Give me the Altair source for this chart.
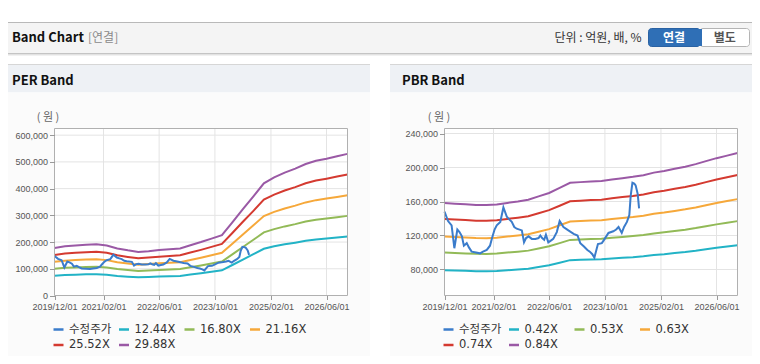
import altair as alt
import pandas as pd

# ---------------- data ----------------
band_dates = ["2019-12-01", "2020-03-01", "2020-06-01", "2020-09-01", "2020-12-01",
              "2021-03-01", "2021-06-01", "2021-09-01", "2021-12-01", "2022-03-01",
              "2022-06-01", "2022-09-01", "2022-12-01", "2023-03-01", "2023-06-01",
              "2023-09-01", "2023-12-01", "2024-03-01", "2024-06-01", "2024-09-01",
              "2024-12-01", "2025-03-01", "2025-06-01", "2025-09-01", "2025-12-01",
              "2026-03-01", "2026-06-01", "2026-09-01", "2026-12-01"]

per_names = ["수정주가", "12.44X", "16.80X", "21.16X", "25.52X", "29.88X"]
per_1244 = [74.1, 76.6, 77.9, 79.1, 79.9, 77.9, 73.3, 70.4, 67.9, 69.1, 70.8, 72.0, 73.3, 78.3, 83.3,
            88.7, 94.1, 114.1, 134.5, 154.5, 174.9, 184.0, 191.5, 197.8, 204.8, 209.8, 213.2, 216.9, 220.7]
per_1680 = [100.1, 103.5, 105.1, 106.8, 108.0, 105.1, 99.0, 95.0, 91.6, 93.3, 95.6, 97.3, 99.0, 105.7, 112.5,
            119.8, 127.1, 154.1, 181.6, 208.6, 236.1, 248.5, 258.6, 267.1, 276.6, 283.4, 287.9, 292.9, 298.0]
per_2116 = [126.1, 130.3, 132.4, 134.6, 136.0, 132.4, 124.6, 119.7, 115.4, 117.6, 120.4, 122.5, 124.6, 133.1, 141.6,
            150.8, 160.0, 194.0, 228.7, 262.7, 297.4, 313.0, 325.8, 336.4, 348.4, 356.9, 362.6, 369.0, 375.3]
per_2552 = [152.0, 157.2, 159.7, 162.3, 164.0, 159.7, 150.3, 144.3, 139.2, 141.8, 145.2, 147.8, 150.3, 160.6, 170.8,
            181.9, 193.0, 234.0, 275.9, 316.9, 358.7, 377.5, 392.9, 405.7, 420.2, 430.5, 437.3, 445.0, 452.7]
per_2988 = [178, 184, 187, 190, 192, 187, 176, 169, 163, 166, 170, 173, 176, 188, 200,
            213, 226, 274, 323, 371, 420, 442, 460, 475, 492, 504, 512, 521, 530]

pbr_names = ["수정주가", "0.42X", "0.53X", "0.63X", "0.74X", "0.84X"]
pbr_042 = [79.2, 78.8, 78.4, 78.0, 77.9, 78.3, 79.2, 80.0, 81.0, 83.0, 85.0, 88.0, 91.0, 91.4, 91.8,
           92.0, 93.0, 93.8, 94.5, 95.5, 97.0, 98.0, 99.3, 100.5, 102.0, 103.8, 105.5, 107.0, 108.5]
pbr_053 = [99.9, 99.4, 98.9, 98.4, 98.3, 98.7, 99.9, 101.0, 102.2, 104.7, 107.3, 111.0, 114.8, 115.3, 115.8,
           116.1, 117.4, 118.3, 119.3, 120.5, 122.4, 123.7, 125.2, 126.8, 128.7, 130.9, 133.1, 135.0, 136.9]
pbr_063 = [118.7, 118.1, 117.6, 117.0, 116.9, 117.4, 118.7, 120.0, 121.5, 124.5, 127.5, 132.0, 136.5, 137.1, 137.6,
           138.0, 139.5, 140.6, 141.8, 143.3, 145.5, 147.0, 148.9, 150.8, 153.0, 155.6, 158.3, 160.5, 162.8]
pbr_074 = [139.5, 138.8, 138.1, 137.4, 137.3, 137.9, 139.5, 141.0, 142.7, 146.2, 149.8, 155.0, 160.3, 161.0, 161.7,
           162.1, 163.9, 165.2, 166.5, 168.3, 170.9, 172.7, 174.9, 177.1, 179.7, 182.8, 185.9, 188.5, 191.2]
pbr_084 = [158.3, 157.5, 156.8, 156.0, 155.8, 156.5, 158.3, 160.0, 162.0, 166.0, 170.0, 176.0, 182.0, 182.8, 183.5,
           184.0, 186.0, 187.5, 189.0, 191.0, 194.0, 196.0, 198.5, 201.0, 204.0, 207.5, 211.0, 214.0, 217.0]

price_dates = ["2019-12-01", "2020-01-01", "2020-02-01", "2020-02-25", "2020-03-22", "2020-04-10",
               "2020-05-01", "2020-05-18", "2020-06-12", "2020-07-01", "2020-07-25", "2020-09-01",
               "2020-10-06", "2020-11-01", "2020-12-04", "2021-01-01", "2021-01-19", "2021-02-10",
               "2021-03-01", "2021-04-01", "2021-04-28", "2021-05-28", "2021-06-18", "2021-07-10",
               "2021-08-01", "2021-08-22", "2021-10-06", "2021-10-25", "2021-11-12", "2021-12-04",
               "2022-01-01", "2022-02-01", "2022-03-01", "2022-03-16", "2022-04-01", "2022-04-19",
               "2022-05-04", "2022-05-25", "2022-06-16", "2022-07-07", "2022-08-07", "2022-09-01",
               "2022-10-04", "2022-11-16", "2023-01-01", "2023-02-04", "2023-02-28", "2023-04-01",
               "2023-05-01", "2023-05-22", "2023-06-13", "2023-07-01", "2023-08-01", "2023-09-04",
               "2023-09-19", "2023-11-01", "2023-12-13", "2024-01-07", "2024-01-28", "2024-02-25",
               "2024-03-16", "2024-04-10", "2024-05-01", "2024-05-13", "2024-05-28", "2024-06-13",
               "2024-06-25", "2024-07-13", "2024-07-25"]
price_values = [148, 137, 132, 105, 127, 124, 119, 108, 111, 106, 101, 100, 99, 101, 103, 108, 117, 127,
                132, 136, 153, 142, 139, 136, 130, 128, 126, 112, 117, 119, 116, 116, 117, 120, 117, 115,
                121, 112, 114, 116, 124, 137, 130, 126, 122, 120, 111, 107, 103, 101, 98, 94, 110, 111,
                114, 123, 125, 127, 130, 123, 130, 136, 144, 167, 182, 181, 179, 169, 152]

x_tick_dates = ["2019-12-01", "2021-02-01", "2022-06-01", "2023-10-01", "2025-02-01", "2026-06-01"]
x_domain_dates = ["2019-12-01", "2026-12-01"]
per_y_ticks = [0, 100000, 200000, 300000, 400000, 500000, 600000]
per_y_domain = [0, 625000]
pbr_y_ticks = [80000, 120000, 160000, 200000, 240000]
pbr_y_domain = [49400, 245900]

colors = ["#3b7ccb", "#22b3c6", "#92ba57", "#f6a83a", "#d43a30", "#9a59a5"]

# ---------------- tables ----------------
def ms(d):
    return int(pd.Timestamp(d, tz="UTC").value // 10**6)

def band_table(names, series):
    rows = []
    for name, vals in zip(names[1:], series):
        for d, v in zip(band_dates, vals):
            rows.append({"date": d, "value": v * 1000, "series": name})
    return pd.DataFrame(rows)

per_bands = band_table(per_names, [per_1244, per_1680, per_2116, per_2552, per_2988])
pbr_bands = band_table(pbr_names, [pbr_042, pbr_053, pbr_063, pbr_074, pbr_084])
price_df = pd.DataFrame({"date": price_dates, "value": [v * 1000 for v in price_values], "series": "수정주가"})

# ---------------- layout constants ----------------
W, H = 744, 348
YR = [287.5, 120.5]
PER_XR = [46.5, 339.5]
PBR_XR = [436.5, 729.5]
NUMFONT = "Liberation Sans"
KFONT = "Noto Sans CJK KR"
one = pd.DataFrame({"k": [0]})


def xenc(rng):
    return alt.X("date:T",
                 scale=alt.Scale(type="utc", domain=[ms(d) for d in x_domain_dates], range=rng),
                 axis=alt.Axis(orient="bottom", offset=YR[0] - H, values=[ms(d) for d in x_tick_dates],
                               labelExpr="utcFormat(datum.value, '%Y/%m/%d')", grid=False, domain=False,
                               tickColor="#999999", tickSize=4, labelFont=NUMFONT, labelFontSize=9,
                               labelColor="#555555", labelPadding=3, labelFlush=False, labelOverlap=False,
                               title=None, zindex=1))


def yenc(domain, ticks, xleft):
    return alt.Y("value:Q",
                 scale=alt.Scale(domain=domain, range=YR, nice=False, zero=False),
                 axis=alt.Axis(orient="left", offset=-xleft, values=ticks, format=",d", grid=False,
                               domain=False, tickColor="#999999", tickSize=5, labelFont=NUMFONT,
                               labelFontSize=9, labelColor="#555555", labelPadding=2, title=None,
                               zindex=1))


def cenc(names, lx):
    return alt.Color("series:N",
                     scale=alt.Scale(domain=names, range=colors),
                     legend=alt.Legend(orient="none", legendX=lx, legendY=315, columns=4, title=None,
                                       direction="horizontal",
                                       symbolType="stroke", symbolSize=100, symbolStrokeWidth=2.5,
                                       labelFont="DejaVu Sans, Noto Sans CJK KR", labelFontSize=11.5,
                                       labelColor="#333333", columnPadding=1.5, rowPadding=3.5,
                                       gridAlign="all", labelOffset=4, padding=0))


def panel(bands, names, xr, ydom, yticks, lx):
    x = xenc(xr)
    y = yenc(ydom, yticks, xr[0])
    c = cenc(names, lx)
    vgrid = alt.Chart(pd.DataFrame({"date": x_tick_dates[1:]})).mark_rule(
        color="#e4e4e4", strokeWidth=1).encode(x=x, y=alt.value(YR[1]), y2=alt.value(YR[0]))
    hgrid = alt.Chart(pd.DataFrame({"value": [t for t in yticks if t > ydom[0]]})).mark_rule(
        color="#e4e4e4", strokeWidth=1).encode(y=y, x=alt.value(xr[0]), x2=alt.value(xr[1]))
    band_lines = alt.Chart(bands).mark_line(strokeWidth=2).encode(x=x, y=y, color=c, detail="series:N")
    price_line = alt.Chart(price_df).mark_line(strokeWidth=2).encode(x=x, y=y, color=c)
    return alt.layer(vgrid, hgrid, band_lines, price_line)


def rect(x, x2, y, y2, fill, stroke=None, radius=0, sw=1):
    kw = dict(fill=fill, cornerRadius=radius)
    if stroke:
        kw.update(stroke=stroke, strokeWidth=sw)
    return alt.Chart(one).mark_rect(**kw).encode(
        x=alt.value(x), x2=alt.value(x2), y=alt.value(y), y2=alt.value(y2))


def hline(y, x, x2, color):
    return alt.Chart(one).mark_rule(color=color, strokeWidth=1).encode(
        x=alt.value(x), x2=alt.value(x2), y=alt.value(y))


def txt(s, x, y, size=12, color="#333333", weight="normal", align="left", font=KFONT):
    return alt.Chart(one).mark_text(text=s, fontSize=size, color=color, fontWeight=weight,
                                    align=align, baseline="middle", font=font).encode(
        x=alt.value(x), y=alt.value(y))


decor = [
    # top header bar
    rect(0, W, 15, 45, "#f4f4f4"),
    hline(14.5, 0, W, "#b9b9b9"),
    hline(45.5, 0, W, "#c4c4c4"),
    hline(46.5, 0, W, "#e2e2e2"),
    hline(47.5, 0, W, "#f1f1f1"),
    # panels
    rect(0, 362, 57, 84.5, "#eef1f5"),
    rect(382, W, 57, 84.5, "#eef1f5"),
    rect(0, 362, 84.5, H, "#fbfbfb"),
    rect(382, W, 84.5, H, "#fbfbfb"),
    hline(56.5, 0, 362, "#d6d6d6"),
    hline(56.5, 382, W, "#d6d6d6"),
    # buttons
    rect(640.5, 692, 20.5, 38.5, "#2f6fb6", stroke="#2a62a3", radius=3),
    rect(692, 741.5, 20.5, 38.5, "#ffffff", stroke="#b4b4b4", radius=3),
    rect(688, 694, 21, 38, "#2f6fb6"),
]

frames = [
    rect(PER_XR[0], PER_XR[1], YR[1], YR[0], "#ffffff"),
    rect(PBR_XR[0], PBR_XR[1], YR[1], YR[0], "#ffffff"),
]

per_panel = panel(per_bands, per_names, PER_XR, per_y_domain, per_y_ticks, 44)
pbr_panel = panel(pbr_bands, pbr_names, PBR_XR, pbr_y_domain, pbr_y_ticks, 434)

borders = [
    alt.Chart(one).mark_rect(fillOpacity=0, stroke="#b0b0b0", strokeWidth=1).encode(
        x=alt.value(PER_XR[0]), x2=alt.value(PER_XR[1]), y=alt.value(YR[1]), y2=alt.value(YR[0])),
    alt.Chart(one).mark_rect(fillOpacity=0, stroke="#b0b0b0", strokeWidth=1).encode(
        x=alt.value(PBR_XR[0]), x2=alt.value(PBR_XR[1]), y=alt.value(YR[1]), y2=alt.value(YR[0])),
]

texts = [
    txt("Band Chart", 4, 30, size=13, color="#111111", weight="bold"),
    txt("[연결]", 80, 30, size=12, color="#8a8a8a"),
    txt("단위 : 억원, 배, %", 633.5, 30, size=12, color="#333333", align="right"),
    txt("연결", 666, 29.5, size=12, color="#ffffff", weight="bold", align="center"),
    txt("별도", 716.7, 29.5, size=12, color="#555555", weight="bold", align="center"),
    txt("PER Band", 4, 72.5, size=13, color="#111111", weight="bold"),
    txt("PBR Band", 394, 72.5, size=13, color="#111111", weight="bold"),
    txt("( 원 )", 40, 110, size=11, color="#666666", align="center"),
    txt("( 원 )", 431, 110, size=11, color="#666666", align="center"),
]

chart = alt.layer(*decor, *frames, per_panel, pbr_panel, *borders, *texts).resolve_scale(
    x="independent", y="independent", color="independent"
).properties(
    width=W, height=H, padding=0, autosize=alt.AutoSizeParams(type="none")
).configure_view(strokeWidth=0)

chart.save("out.html", embed_options={"renderer": "svg", "actions": False})
